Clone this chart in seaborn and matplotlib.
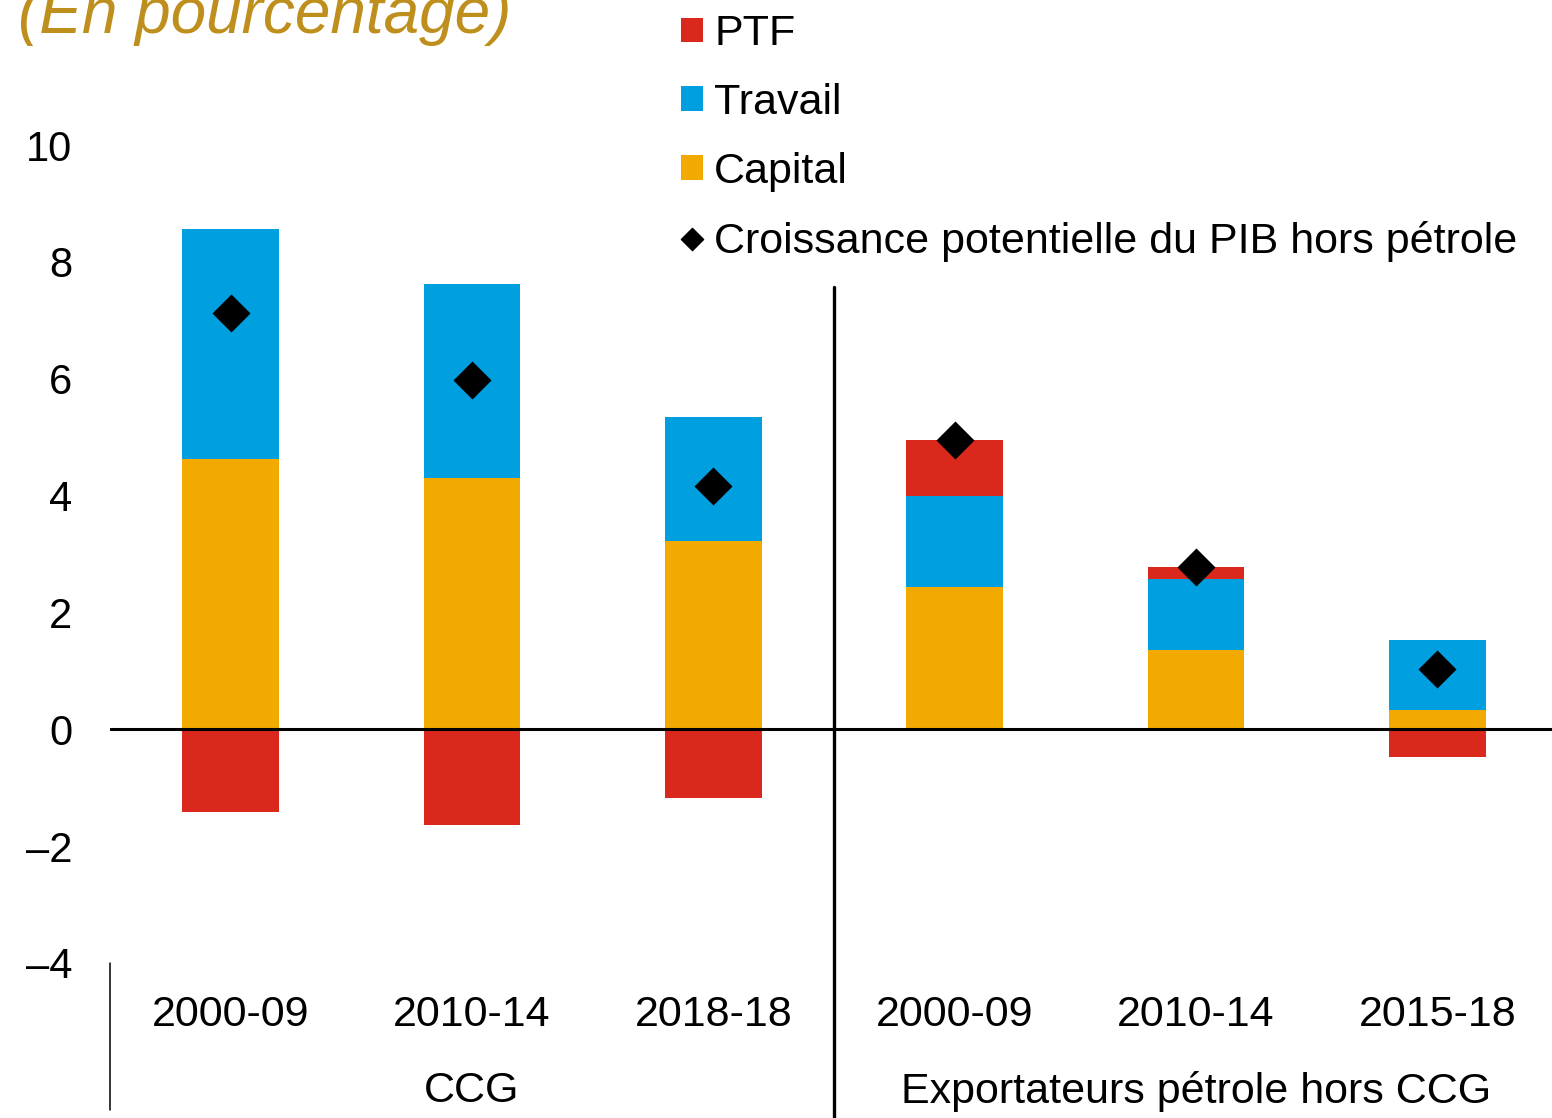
import numpy as np
import pandas as pd
import matplotlib.pyplot as plt
from matplotlib.patches import Patch
from matplotlib.lines import Line2D
from matplotlib.path import Path
import seaborn as sns

periods = ['2000-09', '2010-14', '2018-18', '2000-09', '2010-14', '2015-18']
groups = ['CCG', 'Exportateurs pétrole hors CCG']
capital = [4.62, 4.30, 3.22, 2.43, 1.35, 0.33]
travail = [3.94, 3.32, 2.12, 1.56, 1.22, 1.20]
ptf = [-1.42, -1.63, -1.18, 0.96, 0.20, -0.48]
croissance = [7.12, 5.98, 4.16, 4.95, 2.77, 1.04]
yticks = [-4, -2, 0, 2, 4, 6, 8, 10]

RED = '#DA291C'
BLUE = '#009FDF'
ORANGE = '#F2A900'
GOLD = '#BF8F1E'
FS = 31

df = pd.DataFrame({'pos': range(len(periods)), 'capital': capital,
                   'travail': travail, 'ptf': ptf, 'croissance': croissance})
df['lab'] = df['capital'] + df['travail']
df['red'] = np.where(df['ptf'] > 0, df['lab'] + df['ptf'], df['ptf'])

sns.set_style('white')
plt.rcParams['font.family'] = ['Liberation Sans', 'DejaVu Sans']
plt.rcParams['text.color'] = 'black'
plt.rcParams['xtick.color'] = 'black'
plt.rcParams['ytick.color'] = 'black'

fig = plt.figure(figsize=(15.52, 11.18), dpi=100)
ax = fig.add_axes([110 / 1552, 1 - 963 / 1118, 1448 / 1552, 818 / 1118])

# layered bars: red (total incl. positive ptf, or negative ptf), then blue, then orange
sns.barplot(data=df, x='pos', y='red', color=RED, width=0.4, linewidth=0,
            saturation=1, errorbar=None, ax=ax)
sns.barplot(data=df, x='pos', y='lab', color=BLUE, width=0.4, linewidth=0,
            saturation=1, errorbar=None, ax=ax)
sns.barplot(data=df, x='pos', y='capital', color=ORANGE, width=0.4, linewidth=0,
            saturation=1, errorbar=None, ax=ax)

diamond = Path([(0, 1), (1, 0), (0, -1), (-1, 0), (0, 1)],
               [Path.MOVETO, Path.LINETO, Path.LINETO, Path.LINETO, Path.CLOSEPOLY])
sns.scatterplot(data=df, x='pos', y='croissance', marker=diamond, s=750,
                color='black', linewidth=0, zorder=5, ax=ax)

ax.axhline(0, color='black', lw=2.2, zorder=4)
ax.plot([2.5, 2.5], [0.826, -0.2], color='black', lw=2.4,
        transform=ax.get_xaxis_transform(), clip_on=False)
ax.plot([-0.5, -0.5], [0.0, -0.18], color='black', lw=1.1,
        transform=ax.get_xaxis_transform(), clip_on=False)

ax.set_xlim(-0.5, 5.5)
ax.set_ylim(-4, 10)
ax.set_yticks(yticks, [str(t).replace('-', '–') for t in yticks])
ax.set_xticks(range(len(periods)), periods)
ax.tick_params(axis='y', length=0, pad=27, labelsize=30)
ax.tick_params(axis='x', length=0, pad=23, labelsize=FS)
ax.set_xlabel('')
ax.set_ylabel('')
for s in ax.spines.values():
    s.set_visible(False)

ax.text(1, -0.157, groups[0], transform=ax.get_xaxis_transform(),
        ha='center', va='center', fontsize=FS)
ax.text(4, -0.157, groups[1], transform=ax.get_xaxis_transform(),
        ha='center', va='center', fontsize=FS)

fig.text(18 / 1552, 1 - 33 / 1118, '(En pourcentage)', color=GOLD,
         fontsize=46, style='italic', ha='left', va='baseline')

handles = [Patch(color=RED, lw=0), Patch(color=BLUE, lw=0), Patch(color=ORANGE, lw=0),
           Line2D([], [], marker=diamond, color='black', ls='none', markersize=16)]
labels = ['PTF', 'Travail', 'Capital', 'Croissance potentielle du PIB hors pétrole']
fig.legend(handles, labels, loc='upper left', bbox_to_anchor=(681 / 1552, 1 - 14 / 1118),
           frameon=False, fontsize=FS, handlelength=0.51, handleheight=0.49,
           handletextpad=0.26, labelspacing=0.67, borderpad=0, borderaxespad=0)

fig.savefig('out.png', dpi=100)
